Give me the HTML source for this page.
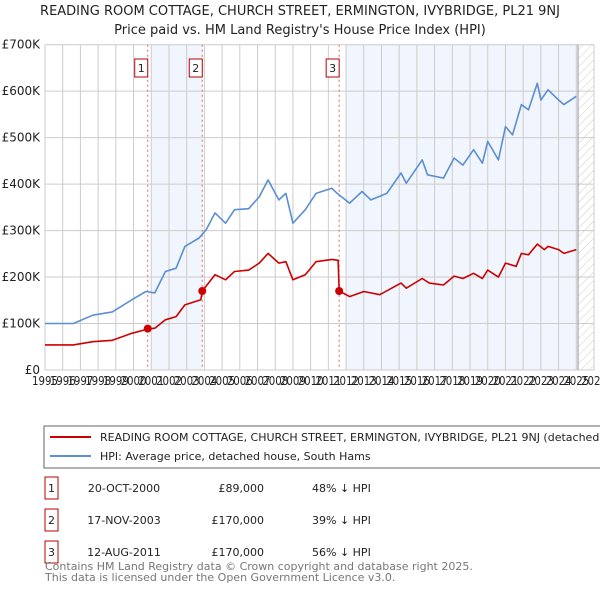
<!DOCTYPE html>
<html><head><meta charset="utf-8"><style>
body{margin:0;background:#fff;font-family:"DejaVu Sans","Liberation Sans",sans-serif;}
svg text{font-family:"DejaVu Sans","Liberation Sans",sans-serif;}
</style></head><body>
<svg id="c" width="600" height="590" xmlns="http://www.w3.org/2000/svg">
<defs><pattern id="h" width="6" height="6" patternUnits="userSpaceOnUse" patternTransform="rotate(45)"><line x1="0" y1="0" x2="0" y2="6" stroke="#ccc" stroke-width="1"/></pattern></defs>
<text x="300" y="15" text-anchor="middle" font-size="13" fill="#222">READING ROOM COTTAGE, CHURCH STREET, ERMINGTON, IVYBRIDGE, PL21 9NJ</text>
<text x="300" y="34" text-anchor="middle" font-size="13" fill="#222">Price paid vs. HM Land Registry's House Price Index (HPI)</text>
<g id="plot"></g>
<rect x="44" y="426" width="570" height="42" fill="#fff" stroke="#666"/>
<line x1="50" y1="437" x2="91" y2="437" stroke="#cc0000" stroke-width="2"/>
<text x="100" y="441" font-size="11" fill="#222">READING ROOM COTTAGE, CHURCH STREET, ERMINGTON, IVYBRIDGE, PL21 9NJ (detached house)</text>
<line x1="50" y1="456" x2="91" y2="456" stroke="#5b8fd0" stroke-width="2"/>
<text x="100" y="460" font-size="11" fill="#222">HPI: Average price, detached house, South Hams</text>
<g id="tbl" font-size="11" fill="#222"></g>
<text x="45" y="570" font-size="11" fill="#777">Contains HM Land Registry data © Crown copyright and database right 2025.</text>
<text x="45" y="581" font-size="11" fill="#777">This data is licensed under the Open Government Licence v3.0.</text>
</svg>
<script>
const hpiYears=[1995.0,1996.6,1997.7,1998.8,1999.9,2000.7,2001.2,2001.8,2002.4,2002.9,2003.7,2004.1,2004.6,2005.2,2005.7,2006.5,2007.1,2007.6,2008.2,2008.6,2009.0,2009.7,2010.3,2011.2,2011.5,2012.2,2012.9,2013.4,2014.3,2015.1,2015.4,2016.3,2016.6,2017.5,2018.1,2018.6,2019.2,2019.7,2020.0,2020.6,2021.0,2021.4,2021.9,2022.3,2022.8,2023.0,2023.4,2024.0,2024.3,2025.0];
const hpiValues=[100,100,118,125,151,169,166,212,219,266,284,302,338,316,345,347,373,409,366,380,316,345,380,391,380,359,384,366,380,424,402,452,420,413,456,441,474,445,492,452,524,506,571,560,617,581,603,581,571,589];
const priceYears=[1995.0,1996.6,1997.7,1998.8,1999.9,2000.8,2001.2,2001.8,2002.4,2002.9,2003.8,2003.88,2004.6,2005.2,2005.7,2006.5,2007.1,2007.6,2008.2,2008.6,2009.0,2009.7,2010.3,2011.2,2011.55,2011.61,2012.2,2013.0,2013.9,2015.1,2015.4,2016.3,2016.7,2017.5,2018.1,2018.6,2019.2,2019.7,2020.0,2020.6,2021.0,2021.6,2021.9,2022.3,2022.8,2023.2,2023.4,2024.0,2024.3,2025.0];
const priceValues=[54,54,61,64,79,88,90,108,115,140,151,170,205,194,212,215,230,251,230,233,194,205,233,238,236,170,158,169,162,187,176,197,187,183,202,197,208,197,215,200,230,223,251,248,271,259,266,259,251,259];
const saleYears=[2000.8,2003.88,2011.61];
const saleValues=[89,170,170];
const saleLabels=["1","2","3"];
const saleDates=["20-OCT-2000","17-NOV-2003","12-AUG-2011"];
const salePrices=["£89,000","£170,000","£170,000"];
const saleDiffs=["48% ↓ HPI","39% ↓ HPI","56% ↓ HPI"];
const yTicks=[0,100,200,300,400,500,600,700];
const yTickLabels=["£0","£100K","£200K","£300K","£400K","£500K","£600K","£700K"];
const xTicks=[];for(let y=1995;y<=2026;y++)xTicks.push(y);

const L=45,R=594,T=44.7,B=370,x0=1995,x1=2026,ymax=700;
const X=v=>L+(v-x0)/(x1-x0)*(R-L);
const Y=v=>B-v/ymax*(B-T);
const NS="http://www.w3.org/2000/svg";
const g=document.getElementById('plot');
function mk(t,a,p){const e=document.createElementNS(NS,t);for(const k in a)e.setAttribute(k,a[k]);(p||g).appendChild(e);return e;}

let e=mk('rect',{x:L,y:T,width:R-L,height:B-T,fill:'#fff'});


e=mk('rect',{x:X(2001),y:T,width:X(saleYears[1])-X(2001),height:B-T,fill:'#eef3fc',opacity:0.8});


e=mk('rect',{x:X(2012),y:T,width:X(2025.1)-X(2012),height:B-T,fill:'#eef3fc',opacity:0.8});


e=mk('rect',{x:X(2025.1),y:T,width:R-X(2025.1),height:B-T,fill:'url(#h)'});


xTicks.forEach((t,i)=>{
  e=mk('line',{x1:X(t),x2:X(t),y1:T,y2:B,stroke:'#ccc','stroke-width':1});
  
  
  e=mk('text',{x:X(t),y:B+15,'text-anchor':'middle','font-size':12,fill:'#222',textLength:26,lengthAdjust:'spacingAndGlyphs'});
  e.textContent=t;
  
  
});
yTicks.forEach((t,i)=>{
  e=mk('line',{x1:L,x2:R,y1:Y(t),y2:Y(t),stroke:'#ccc','stroke-width':1});
  
  
  e=mk('text',{x:L-5,y:Y(t)+4,'text-anchor':'end','font-size':12,fill:'#222'});
  e.textContent=yTickLabels[i];
  
  
});
e=mk('line',{x1:X(2025.1),x2:X(2025.1),y1:T,y2:B,stroke:'#999','stroke-width':1});


saleYears.forEach((s,i)=>{
  e=mk('line',{x1:X(s),x2:X(s),y1:T,y2:B,stroke:'#e06666','stroke-width':1,'stroke-dasharray':'2,3'});
  
  
  e=mk('rect',{x:X(s)-13,y:59,width:13,height:18,fill:'#fff',stroke:'#b00'});
  
  
  e=mk('text',{x:X(s)-6.5,y:72,'text-anchor':'middle','font-size':11,fill:'#222'});
  e.textContent=saleLabels[i];
  
  
});
function path(xs,vs,col,name){
  const d=xs.map((x,i)=>(i?'L':'M')+X(x).toFixed(1)+','+Y(vs[i]).toFixed(1)).join('');
  const p=mk('path',{d:d,fill:'none',stroke:col,'stroke-width':1.6,'stroke-linejoin':'round'});
  
  
}
path(hpiYears,hpiValues,'#5b8fd0','hpi-line');
path(priceYears,priceValues,'#cc0000','price-paid-line');
saleYears.forEach((s,i)=>{
  e=mk('circle',{cx:X(s),cy:Y(saleValues[i]),r:4,fill:'#cc0000'});
  
  
});
const tb=document.getElementById('tbl');
saleYears.forEach((s,i)=>{
  const cy=488+i*32;
  e=mk('rect',{x:45,y:cy-11,width:13,height:22,fill:'#fff',stroke:'#b00'},tb);
  
  
  const cells=[[51.5,'middle',saleLabels[i],'table-row-number'],[124,'middle',saleDates[i],'table-sale-date'],[264,'end',salePrices[i],'table-sale-price'],[312,'start',saleDiffs[i],'table-hpi-diff']];
  cells.forEach(c=>{
    e=mk('text',{x:c[0],y:cy+4,'text-anchor':c[1]},tb);
    e.textContent=c[2];
    
    
  });
});
</script>
</body></html>
